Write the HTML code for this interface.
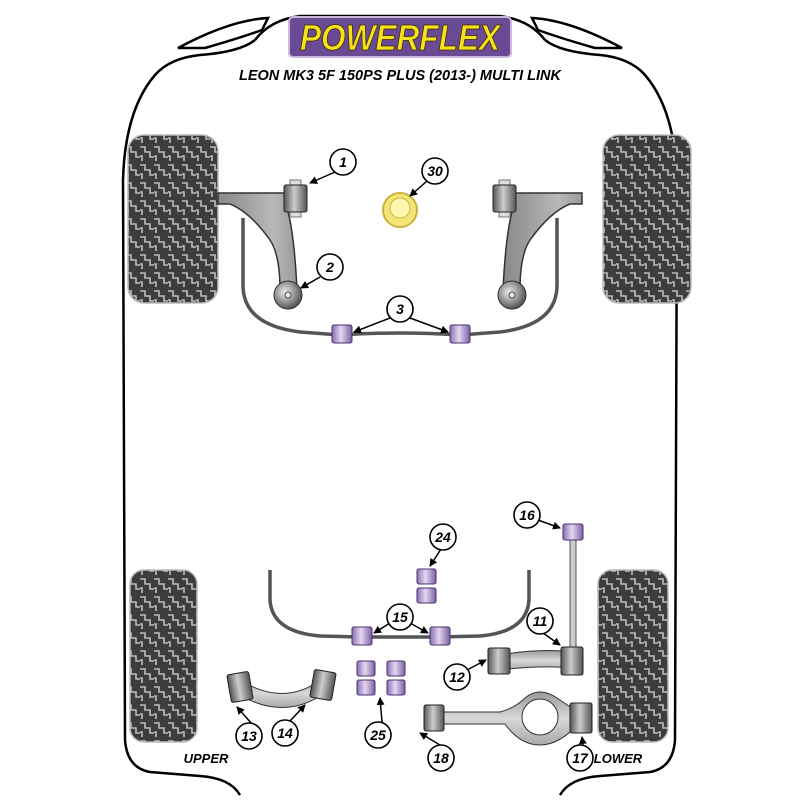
<!DOCTYPE html>
<html><head><meta charset="utf-8"><style>
html,body{margin:0;padding:0;background:#fff;width:800px;height:800px;overflow:hidden}
svg{display:block}
.t{font-family:"Liberation Sans",sans-serif;font-weight:bold;font-style:italic}
</style></head><body>
<svg width="800" height="800" viewBox="0 0 800 800" xmlns="http://www.w3.org/2000/svg">
<defs>
<pattern id="tread" width="14" height="18" patternUnits="userSpaceOnUse">
<rect width="14" height="18" fill="#3d3d3d"/>
<path d="M0 3 H5 V8 H10 V13 H14" fill="none" stroke="#bdbdbd" stroke-width="1.6"/>
<path d="M0 12 H2 V17" fill="none" stroke="#bdbdbd" stroke-width="1.6"/>
</pattern>
<linearGradient id="bg" x1="0" x2="1"><stop offset="0" stop-color="#555"/><stop offset=".45" stop-color="#ccc"/><stop offset="1" stop-color="#555"/></linearGradient>
<linearGradient id="pg" x1="0" x2="1"><stop offset="0" stop-color="#8a6fb0"/><stop offset=".45" stop-color="#e4d8f3"/><stop offset="1" stop-color="#7a5ea3"/></linearGradient>
<linearGradient id="ag" x1="0" y1="0" x2="0" y2="1"><stop offset="0" stop-color="#999"/><stop offset=".5" stop-color="#d8d8d8"/><stop offset="1" stop-color="#aaa"/></linearGradient>
<linearGradient id="fa" x1="0" y1="0" x2="1" y2="0"><stop offset="0" stop-color="#888"/><stop offset=".7" stop-color="#b8b8b8"/><stop offset="1" stop-color="#999"/></linearGradient>
<radialGradient id="rb" cx=".4" cy=".4" r=".6"><stop offset="0" stop-color="#eee"/><stop offset="1" stop-color="#555"/></radialGradient>
<marker id="ar" markerWidth="8" markerHeight="8" refX="7" refY="4" orient="auto" markerUnits="userSpaceOnUse"><path d="M0 0 L8 4 L0 8 z" fill="#000"/></marker>
</defs>

<!-- body outline -->
<path d="M178 48 Q230 20 268 18 L262 30 Q240 38 205 48 Z" fill="none" stroke="#000" stroke-width="2.5"/>
<path d="M622 48 Q570 20 532 18 L538 30 Q560 38 595 48 Z" fill="none" stroke="#000" stroke-width="2.5"/>
<path d="M255 40 Q270 20 300 16 L500 16 Q530 20 545 40" fill="none" stroke="#000" stroke-width="2.5"/>
<path d="M240 795 Q230 778 200 776 L150 772 Q127 768 125 740 L123 180 Q125 110 155 75 Q170 58 200 55 Q240 52 255 40 M545 40 Q560 52 600 55 Q630 58 645 75 Q675 110 677 180 L675 740 Q673 768 650 772 L600 776 Q570 778 560 795" fill="none" stroke="#000" stroke-width="2.5"/>

<!-- logo -->
<rect x="289" y="17" width="222" height="40" rx="4" fill="#6a4a92" stroke="#c9b7de" stroke-width="2"/>
<text x="400" y="50" text-anchor="middle" class="t" font-size="36" fill="#f6e21a" stroke="#3a2a00" stroke-width="0.8" textLength="200" lengthAdjust="spacingAndGlyphs">POWERFLEX</text>
<text x="400" y="80" text-anchor="middle" class="t" font-size="15" fill="#000" textLength="322" lengthAdjust="spacingAndGlyphs">LEON MK3 5F 150PS PLUS (2013-) MULTI LINK</text>

<!-- tyres -->
<rect x="128" y="135" width="90" height="168" rx="16" fill="url(#tread)" stroke="#bbb" stroke-width="1.5"/>
<rect x="603" y="135" width="88" height="168" rx="16" fill="url(#tread)" stroke="#bbb" stroke-width="1.5"/>
<rect x="130" y="570" width="67" height="172" rx="14" fill="url(#tread)" stroke="#bbb" stroke-width="1.5"/>
<rect x="598" y="570" width="70" height="172" rx="14" fill="url(#tread)" stroke="#bbb" stroke-width="1.5"/>

<!-- front arb -->
<path d="M243 218 V285 Q243 325 300 332 L340 335 Q400 331 460 335 L500 332 Q557 325 557 285 V218" fill="none" stroke="#555" stroke-width="3.5"/>
<!-- front arms -->
<path d="M218 193 H286 L286 205 Q294 228 297 290 L280 290 Q280 255 270 240 Q250 212 230 204 H218 Z" fill="url(#fa)" stroke="#333" stroke-width="1.5"/>
<path d="M582 193 H514 L514 205 Q506 228 503 290 L520 290 Q520 255 530 240 Q550 212 570 204 H582 Z" fill="url(#fa)" stroke="#333" stroke-width="1.5"/>
<g>
<rect x="290" y="180" width="11" height="37" fill="#ddd" stroke="#777"/>
<rect x="284" y="185" width="23" height="27" rx="2" fill="url(#bg)" stroke="#222"/>
<rect x="499" y="180" width="11" height="37" fill="#ddd" stroke="#777"/>
<rect x="493" y="185" width="23" height="27" rx="2" fill="url(#bg)" stroke="#222"/>
<circle cx="288" cy="295" r="14" fill="url(#rb)" stroke="#333"/><circle cx="288" cy="295" r="3" fill="#eee" stroke="#444"/>
<circle cx="512" cy="295" r="14" fill="url(#rb)" stroke="#333"/><circle cx="512" cy="295" r="3" fill="#eee" stroke="#444"/>
</g>
<rect x="332" y="325" width="20" height="18" rx="2" fill="url(#pg)" stroke="#4a3070"/>
<rect x="450" y="325" width="20" height="18" rx="2" fill="url(#pg)" stroke="#4a3070"/>
<!-- 30 -->
<circle cx="400" cy="210" r="17" fill="#f4e47a" stroke="#c9b23a" stroke-width="2"/>
<circle cx="400" cy="208" r="10" fill="#fff6b0" stroke="#c9b23a"/>

<!-- rear arb -->
<path d="M270 570 V600 Q272 632 320 636 L360 637 H440 L480 636 Q527 632 529 600 V570" fill="none" stroke="#555" stroke-width="3.5"/>
<rect x="352" y="627" width="20" height="18" rx="2" fill="url(#pg)" stroke="#4a3070"/>
<rect x="430" y="627" width="20" height="18" rx="2" fill="url(#pg)" stroke="#4a3070"/>
<!-- 24 -->
<rect x="417" y="569" width="19" height="15" rx="2" fill="url(#pg)" stroke="#4a3070"/>
<rect x="417" y="588" width="19" height="15" rx="2" fill="url(#pg)" stroke="#4a3070"/>
<!-- 25 -->
<rect x="357" y="661" width="18" height="15" rx="2" fill="url(#pg)" stroke="#4a3070"/>
<rect x="357" y="680" width="18" height="15" rx="2" fill="url(#pg)" stroke="#4a3070"/>
<rect x="387" y="661" width="18" height="15" rx="2" fill="url(#pg)" stroke="#4a3070"/>
<rect x="387" y="680" width="18" height="15" rx="2" fill="url(#pg)" stroke="#4a3070"/>
<!-- drop link 16 -->
<rect x="570" y="535" width="6" height="115" fill="#ccc" stroke="#555"/>
<rect x="563" y="524" width="20" height="16" rx="2" fill="url(#pg)" stroke="#4a3070"/>
<!-- link 11/12 -->
<path d="M500 655 Q540 648 575 652 L575 668 Q540 665 500 670 Z" fill="url(#ag)" stroke="#333"/>
<rect x="488" y="648" width="22" height="26" rx="2" fill="url(#bg)" stroke="#222"/>
<rect x="561" y="647" width="22" height="28" rx="2" fill="url(#bg)" stroke="#222"/>
<!-- lower arm 17/18 -->
<path d="M430 712 H500 Q515 708 525 698 Q540 685 560 700 Q575 710 580 715 L580 722 Q560 745 540 745 Q520 745 505 724 H430 Z" fill="url(#ag)" stroke="#333"/>
<circle cx="540" cy="717" r="18" fill="#fff" stroke="#333"/>
<rect x="424" y="705" width="20" height="26" rx="2" fill="url(#bg)" stroke="#222"/>
<rect x="570" y="703" width="22" height="30" rx="2" fill="url(#bg)" stroke="#222"/>
<!-- upper arm 13/14 -->
<path d="M240 680 Q285 708 323 678 L326 692 Q285 722 238 694 Z" fill="url(#ag)" stroke="#333"/>
<rect x="229" y="673" width="22" height="28" rx="2" fill="url(#bg)" stroke="#222" transform="rotate(-10 240 687)"/>
<rect x="312" y="671" width="22" height="28" rx="2" fill="url(#bg)" stroke="#222" transform="rotate(10 323 685)"/>

<!-- leaders -->
<g stroke="#000" stroke-width="1.5" marker-end="url(#ar)" fill="none">
<line x1="335" y1="172" x2="310" y2="183"/>
<line x1="320" y1="277" x2="301" y2="288"/>
<line x1="390" y1="318" x2="354" y2="332"/>
<line x1="410" y1="318" x2="448" y2="332"/>
<line x1="427" y1="181" x2="410" y2="196"/>
<line x1="441" y1="549" x2="430" y2="566"/>
<line x1="390" y1="623" x2="374" y2="633"/>
<line x1="410" y1="623" x2="428" y2="633"/>
<line x1="538" y1="520" x2="560" y2="528"/>
<line x1="543" y1="633" x2="560" y2="645"/>
<line x1="467" y1="670" x2="486" y2="660"/>
<line x1="252" y1="724" x2="237" y2="707"/>
<line x1="290" y1="721" x2="305" y2="705"/>
<line x1="382" y1="722" x2="380" y2="698"/>
<line x1="440" y1="745" x2="420" y2="733"/>
<line x1="583" y1="745" x2="582" y2="737"/>
</g>
<!-- callouts -->
<g stroke="#000" stroke-width="1.6" fill="#fff">
<circle cx="343" cy="162" r="13"/><circle cx="330" cy="267" r="13"/><circle cx="400" cy="309" r="13"/><circle cx="435" cy="171" r="13"/>
<circle cx="443" cy="537" r="13"/><circle cx="400" cy="617" r="13"/><circle cx="527" cy="515" r="13"/><circle cx="540" cy="621" r="13"/>
<circle cx="457" cy="677" r="13"/><circle cx="249" cy="736" r="13"/><circle cx="285" cy="733" r="13"/><circle cx="378" cy="735" r="13"/>
<circle cx="441" cy="758" r="13"/><circle cx="580" cy="758" r="13"/>
</g>
<g class="t" font-size="14" text-anchor="middle" fill="#000">
<text x="343" y="167">1</text><text x="330" y="272">2</text><text x="400" y="314">3</text><text x="435" y="176">30</text>
<text x="443" y="542">24</text><text x="400" y="622">15</text><text x="527" y="520">16</text><text x="540" y="626">11</text>
<text x="457" y="682">12</text><text x="249" y="741">13</text><text x="285" y="738">14</text><text x="378" y="740">25</text>
<text x="441" y="763">18</text><text x="580" y="763">17</text>
</g>
<text x="206" y="763" class="t" font-size="13" text-anchor="middle">UPPER</text>
<text x="618" y="763" class="t" font-size="13" text-anchor="middle">LOWER</text>
</svg>
</body></html>
